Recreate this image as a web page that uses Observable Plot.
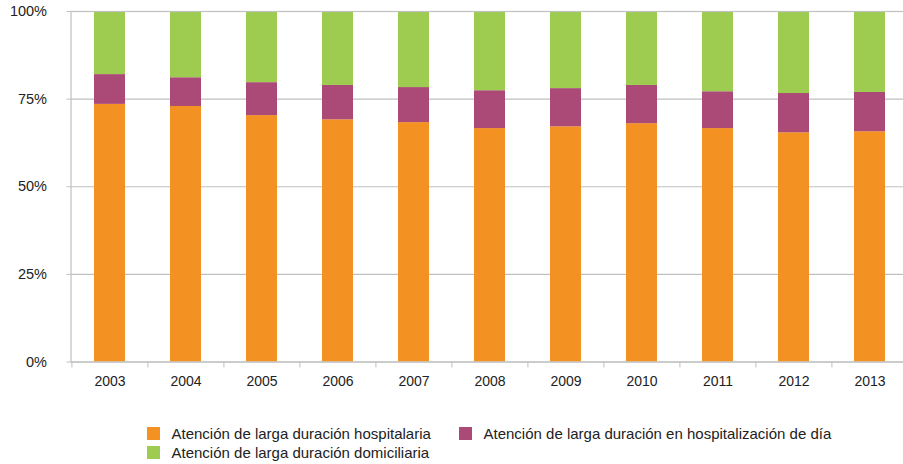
<!DOCTYPE html>
<html>
<head>
<meta charset="utf-8">
<script src="https://cdn.jsdelivr.net/npm/d3@7"></script>
<script src="https://cdn.jsdelivr.net/npm/@observablehq/plot@0.6"></script>
<style>
  html, body { margin: 0; padding: 0; background: #fff; }
  body { width: 903px; height: 464px; position: relative; overflow: hidden; font-family: "Liberation Sans", Arial, sans-serif; }
  #chart { position: absolute; left: 0; top: 0; }
  #legend { position: absolute; left: 147px; top: 424px; display: grid; grid-template-columns: 312px auto; grid-auto-rows: 19px; font-size: 15px; color: #222; }
  .item { display: flex; align-items: center; white-space: nowrap; }
  .sw { width: 13px; height: 13px; margin-right: 11.5px; flex: none; }
</style>
</head>
<body>
<div id="chart"></div>
<div id="legend"></div>
<script>
const years = ["2003","2004","2005","2006","2007","2008","2009","2010","2011","2012","2013"];
const seriesNames = [
  "Atención de larga duración hospitalaria",
  "Atención de larga duración en hospitalización de día",
  "Atención de larga duración domiciliaria"
];
const colors = ["#F39123", "#AB4977", "#9ECC50"];
// shares in % of total
const hospitalaria = [73.5, 72.9, 70.3, 69.1, 68.3, 66.6, 67.1, 68.0, 66.6, 65.4, 65.7];
const hospitalDia   = [8.5, 8.2, 9.4, 9.8, 10.0, 10.8, 10.9, 10.9, 10.5, 11.2, 11.2];
const domiciliaria  = [18.0, 18.9, 20.3, 21.1, 21.7, 22.6, 22.0, 21.1, 22.9, 23.4, 23.1];
const yTicks = [0, 0.25, 0.5, 0.75, 1];

const seriesValues = [hospitalaria, hospitalDia, domiciliaria];
const data = [];
seriesNames.forEach((s, si) => years.forEach((y, yi) => data.push({year: y, series: s, value: seriesValues[si][yi]})));

const W = 903, H = 400;
const mL = 70.5, mR = -5.7;
const step = (W - mL - mR) / years.length;
const grid = "#c0c0c0";

const chart = Plot.plot({
  width: W,
  height: H,
  marginTop: 11,
  marginBottom: 38.5,
  marginLeft: mL,
  marginRight: mR,
  style: {fontFamily: "'Liberation Sans', Arial, sans-serif", color: "#222", background: "#fff", overflow: "hidden"},
  x: {type: "band", domain: years, paddingInner: 0.593, paddingOuter: 0.2965, label: null},
  y: {domain: [0, 1], label: null},
  color: {domain: seriesNames, range: colors},
  marks: [
    Plot.gridY(yTicks, {stroke: grid, strokeOpacity: 1, strokeWidth: 1.2}),
    Plot.barY(data, Plot.stackY({x: "year", y: "value", z: "series", fill: "series", order: seriesNames, offset: "normalize"})),
    Plot.frame({stroke: grid, strokeWidth: 1.2}),
    Plot.axisY(yTicks, {tickSize: 4, tickPadding: 20, fontSize: 14.5, stroke: grid, tickFormat: d3.format(".0%"), label: null}),
    Plot.axisX({tickSize: 0, tickPadding: 14.5, fontSize: 14, label: null}),
    Plot.axisX({tickSize: 6, tickFormat: () => "", dx: -step / 2, stroke: grid, label: null})
  ]
});
document.getElementById("chart").appendChild(chart);

const legend = document.getElementById("legend");
const orderLegend = [0, 1, 2];
orderLegend.forEach(i => {
  const it = document.createElement("div");
  it.className = "item";
  const sw = document.createElement("span");
  sw.className = "sw";
  sw.style.background = colors[i];
  const t = document.createElement("span");
  t.textContent = seriesNames[i];
  it.appendChild(sw); it.appendChild(t);
  legend.appendChild(it);
});
</script>
</body>
</html>
